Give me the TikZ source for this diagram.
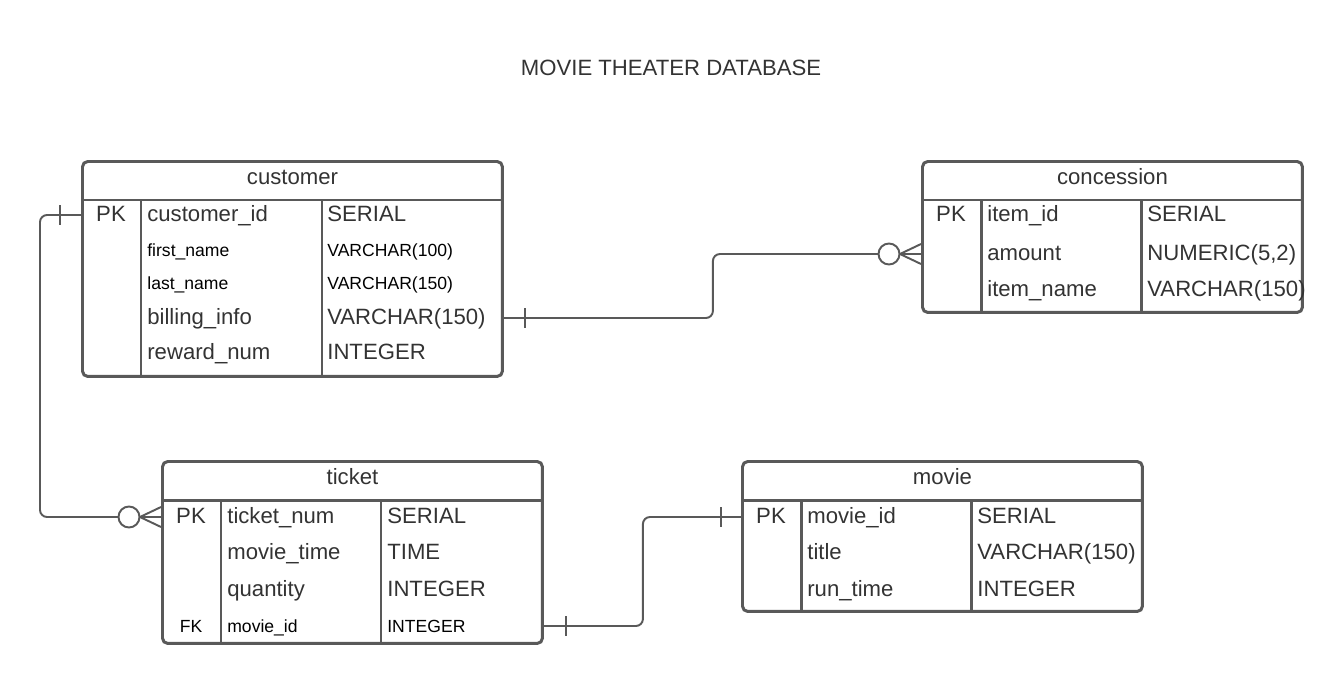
\documentclass[tikz,border=0pt]{standalone}
\usepackage{fontspec}
\setmainfont{Liberation Sans}
\usetikzlibrary{positioning}
\definecolor{linegray}{HTML}{595959}
\definecolor{textgray}{HTML}{333333}

\begin{document}
\begin{tikzpicture}[x=0.02cm,y=-0.02cm,
    table/.style={rectangle,draw=linegray,line width=1.7pt,rounded corners=3pt,anchor=north west,inner sep=0pt},
    grid/.style={draw=linegray,line width=1.7pt},
    big/.style={font=\fontsize{12.6}{15}\selectfont,text=textgray,inner sep=0pt,text height=0.8em,text depth=0.08em},
    small/.style={font=\fontsize{10}{12}\selectfont,text=black,inner sep=0pt,text height=0.8em,text depth=0.08em},
    cell/.style={big,anchor=west},
    smallcell/.style={small,anchor=west},
    link/.style={draw=linegray,line width=1.1pt,rounded corners=4pt},
    endmark/.style={draw=linegray,line width=1.1pt}]

    \path[use as bounding box,fill=white] (0,0) rectangle (1342,683);

    \node[big] (heading) at (671,69) {MOVIE THEATER DATABASE};

    \node[table,minimum width=8.4cm,minimum height=4.3cm] (customer) at (81,160) {};
    \node[big] (cu0) at (customer.north |- 0,178) {customer};
    \draw[grid] (81,200) -- (501,200) (141,200) -- (141,375) (322,200) -- (322,375);
    \node[big] (cupk) at (111,215) {PK};
    \node[cell] (cu1) at (147,215) {customer\_id};
    \node[cell] (cu1t) at (327,215) {SERIAL};
    \node[smallcell] (cu2) at (147,250) {first\_name};
    \node[smallcell] (cu2t) at (cu1t.west |- cu2) {VARCHAR(100)};
    \node[smallcell] (cu3) at (147,283) {last\_name};
    \node[smallcell] (cu3t) at (cu1t.west |- cu3) {VARCHAR(150)};
    \node[cell] (cu4) at (147,318) {billing\_info};
    \node[cell] (cu4t) at (cu1t.west |- cu4) {VARCHAR(150)};
    \node[cell] (cu5) at (147,353) {reward\_num};
    \node[cell] (cu5t) at (cu1t.west |- cu5) {INTEGER};

    \node[table,minimum width=7.6cm,minimum height=3.02cm] (concession) at (921,160) {};
    \node[big] (co0) at (concession.north |- 0,178) {concession};
    \draw[grid] (921,200) -- (1301,200) (981,200) -- (981,311) (1141,200) -- (1141,311);
    \node[big] (copk) at (951,215) {PK};
    \node[cell] (co1) at (987,215) {item\_id};
    \node[cell] (co1t) at (1147,215) {SERIAL};
    \node[cell] (co2) at (987,254) {amount};
    \node[cell] (co2t) at (co1t.west |- co2) {NUMERIC(5,2)};
    \node[cell] (co3) at (987,290) {item\_name};
    \node[cell] (co3t) at (co1t.west |- co3) {VARCHAR(150)};

    \node[table,minimum width=7.6cm,minimum height=3.64cm] (ticket) at (161,460) {};
    \node[big] (ti0) at (ticket.north |- 0,478) {ticket};
    \draw[grid] (161,500) -- (541,500) (221,500) -- (221,642) (381,500) -- (381,642);
    \node[big] (tipk) at (191,517) {PK};
    \node[cell] (ti1) at (227,517) {ticket\_num};
    \node[cell] (ti1t) at (387,517) {SERIAL};
    \node[cell] (ti2) at (227,553) {movie\_time};
    \node[cell] (ti2t) at (ti1t.west |- ti2) {TIME};
    \node[cell] (ti3) at (227,590) {quantity};
    \node[cell] (ti3t) at (ti1t.west |- ti3) {INTEGER};
    \node[small] (tifk) at (191,626) {FK};
    \node[smallcell] (ti4) at (227,626) {movie\_id};
    \node[smallcell] (ti4t) at (ti1t.west |- ti4) {INTEGER};

    \node[table,minimum width=8cm,minimum height=3cm] (movie) at (741,460) {};
    \node[big] (mo0) at (movie.north |- 0,478) {movie};
    \draw[grid] (741,500) -- (1141,500) (801,500) -- (801,610) (971,500) -- (971,610);
    \node[big] (mopk) at (771,517) {PK};
    \node[cell] (mo1) at (807,517) {movie\_id};
    \node[cell] (mo1t) at (977,517) {SERIAL};
    \node[cell] (mo2) at (807,553) {title};
    \node[cell] (mo2t) at (mo1t.west |- mo2) {VARCHAR(150)};
    \node[cell] (mo3) at (807,590) {run\_time};
    \node[cell] (mo3t) at (mo1t.west |- mo3) {INTEGER};

    \draw[link] (customer.west |- cupk) -- ++(-41,0) |- (ticket.west |- tipk);
    \draw[link] (customer.east |- cu4t) -- ++(209,0) |- (concession.west |- co2);
    \draw[link] (ticket.east |- ti4t) -- ++(99,0) |- (movie.west |- mopk);

    \draw[endmark] (customer.west |- cupk) ++(-21,-10) -- ++(0,20);
    \draw[endmark] (customer.east |- cu4t) ++(21,-10) -- ++(0,20);
    \draw[endmark] (ticket.east |- ti4t) ++(22,-10) -- ++(0,20);
    \draw[endmark] (movie.west |- mopk) ++(-20,-10) -- ++(0,20);

    \draw[endmark] (ticket.west |- tipk) ++(-21,0) -- ++(21,-10) ++(-21,10) -- ++(21,10);
    \draw[endmark,fill=white] (ticket.west |- tipk) ++(-32,0) circle[radius=0.21cm];
    \draw[endmark] (concession.west |- co2) ++(-21,0) -- ++(21,-10) ++(-21,10) -- ++(21,10);
    \draw[endmark,fill=white] (concession.west |- co2) ++(-32,0) circle[radius=0.21cm];
\end{tikzpicture}
\end{document}
